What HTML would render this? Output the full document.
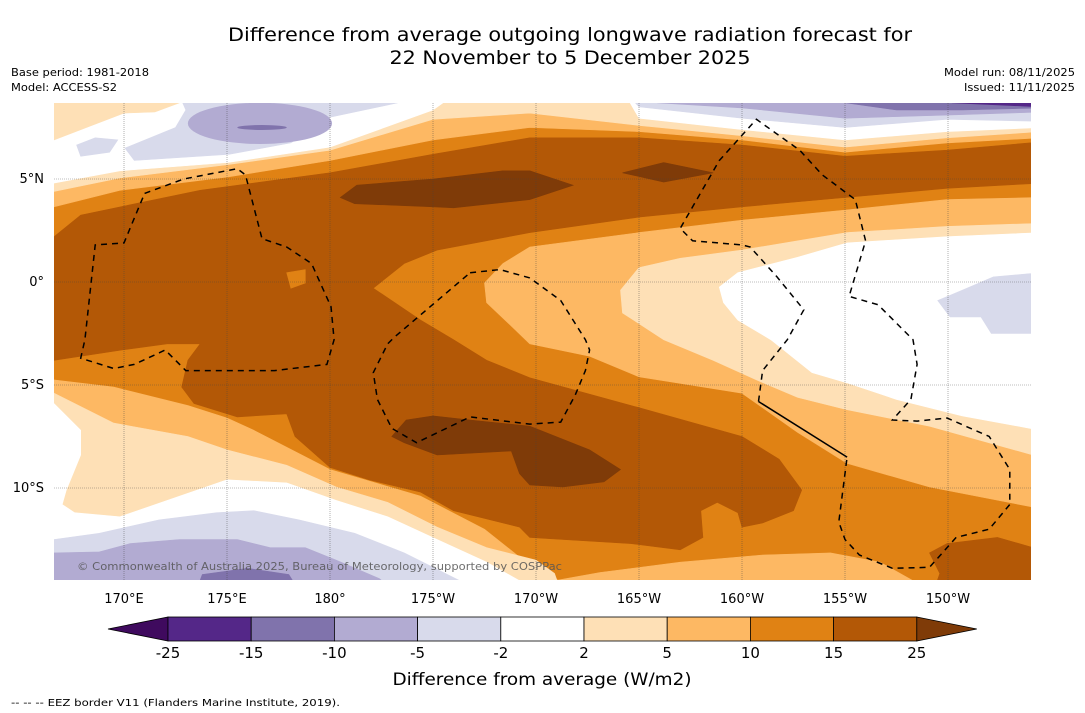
<!DOCTYPE html>
<html><head><meta charset="utf-8">
<style>
html,body{margin:0;padding:0;background:#fff;}
svg{display:block;font-family:"DejaVu Sans","Liberation Sans",sans-serif;}
</style></head>
<body>
<svg id="chart" width="1085" height="713" viewBox="0 0 1085 713" xmlns="http://www.w3.org/2000/svg">
<rect width="1085" height="713" fill="#fff"/>
<text x="570" y="41" font-size="19" text-anchor="middle" textLength="684" lengthAdjust="spacingAndGlyphs" fill="#000">Difference from average outgoing longwave radiation forecast for</text>
<text x="570" y="64" font-size="19" text-anchor="middle" textLength="361" lengthAdjust="spacingAndGlyphs" fill="#000">22 November to 5 December 2025</text>
<text x="11" y="76" font-size="11" textLength="138" lengthAdjust="spacingAndGlyphs">Base period: 1981-2018</text>
<text x="11" y="91" font-size="11" textLength="106" lengthAdjust="spacingAndGlyphs">Model: ACCESS-S2</text>
<text x="1075" y="76" font-size="11" text-anchor="end" textLength="131" lengthAdjust="spacingAndGlyphs">Model run: 08/11/2025</text>
<text x="1075" y="91" font-size="11" text-anchor="end" textLength="111" lengthAdjust="spacingAndGlyphs">Issued: 11/11/2025</text>
<defs><clipPath id="mapclip"><rect x="54" y="103" width="977" height="477"/></clipPath></defs>
<g id="map" clip-path="url(#mapclip)"></g>
<g id="axes"></g>
<g id="cbar"></g>
<text x="542" y="685" font-size="17" text-anchor="middle" textLength="299" lengthAdjust="spacingAndGlyphs">Difference from average (W/m2)</text>
<text x="11" y="706" font-size="10" textLength="329" lengthAdjust="spacingAndGlyphs">--  --  -- EEZ border V11 (Flanders Marine Institute, 2019).</text>
</svg>
<script>
const lonTicks = [170,175,180,185,190,195,200,205,210];
const lonLabels = ["170°E","175°E","180°","175°W","170°W","165°W","160°W","155°W","150°W"];
const latTicks = [5,0,-5,-10];
const latLabels = ["5°N","0°","5°S","10°S"];
const levels = [-25,-15,-10,-5,-2,2,5,10,15,25];
const levelColors = ["#3f0a5e","#542788","#8073ac","#b2abd2","#d8daeb","#ffffff","#fee0b6","#fdb863","#e08214","#b35806","#7f3b08"];

const topLightOrange=[[166,3.65],[166.6,3.65],[169.8,4.45],[175.05,5.1],[180,5.9],[185,6.9],[189.7,7.5],[195,7.3],[200,6.9],[205,6.3],[209.95,6.75],[214.5,7.0],[214.5,10],[166,10]];
const topPeach=[[166,4.4],[166.6,4.4],[169.8,5.05],[175.05,5.7],[180,6.4],[185,7.9],[189.7,8.2],[195,7.6],[200,7.1],[205,6.55],[209.95,7.0],[214.5,7.3],[214.5,10],[166,10]];
const topWhite=[[166,4.8],[166.6,4.8],[169.8,5.4],[175.05,5.8],[180,6.55],[185,8.35],[186.6,9.5],[194.1,9.5],[195,7.95],[200,7.4],[205,6.9],[209.95,7.3],[214.5,7.5],[214.5,10],[166,10]];
const topPeachCorner=[[166,9.5],[173,9.5],[172.7,8.7],[171.5,8.25],[170,8.2],[166.6,6.9],[166,6.9]];
const lavLeft=[[172.5,9.5],[183.4,9.5],[183.3,8.7],[180,8.0],[178.1,6.75],[175.1,6.2],[170.5,5.9],[170.05,6.5],[172.5,7.5],[173,8.35]];
const lavLeftSmall=[[167.7,6.65],[168.6,7.0],[169.7,6.9],[169.3,6.3],[167.9,6.1]];
const lavRight=[[194.1,9.5],[214.5,9.5],[214.5,7.8],[209.95,7.9],[205,7.5],[200,7.95],[195,8.5]];
const midRight=[[195.9,9.5],[214.5,9.5],[214.5,8.25],[209.95,8.1],[205,7.95],[200,8.45],[195.9,8.7]];
const darkRight=[[205,9.5],[214.5,9.5],[214.5,8.45],[210.7,8.35],[207.5,8.35],[205,8.7]];
const darkestRight=[[210.2,9.5],[214.5,9.5],[214.5,8.5],[210.2,8.7]];
const rightLightOrange=[[214.5,4.1],[209.95,4.0],[205.1,3.5],[200,3.0],[195,2.4],[189.7,1.7],[188.4,0.9],[187.5,-0.05],[187.6,-1.0],[188.5,-1.85],[189.7,-3.0],[192.6,-3.6],[195,-4.6],[200,-5.4],[202.7,-7.3],[205.1,-8.8],[209.1,-9.95],[214.5,-11.0]];
const rightPeach=[[214.5,2.85],[209.95,2.7],[205.1,2.4],[200,1.55],[197,1.15],[195,0.7],[194.1,-0.4],[194.2,-1.5],[196.2,-2.8],[198.6,-3.8],[200.7,-4.75],[202.7,-5.6],[205.1,-6.2],[209.1,-7.0],[214.5,-8.5]];
const rightWhite=[[214.5,2.4],[209.95,2.2],[205.1,1.9],[202.7,1.2],[199.8,0.45],[198.9,-0.25],[199.1,-1.0],[199.8,-1.85],[201.4,-2.8],[203.4,-4.4],[205.1,-4.9],[207.5,-5.7],[210.7,-6.5],[214.5,-7.2]];
const rightLav=[[209.5,-0.9],[210.7,-0.4],[212.2,0.25],[214.5,0.45],[214.5,-2.5],[212.1,-2.5],[211.6,-1.7],[210.1,-1.7]];
const blLightOrange=[[166,-4.75],[166.6,-4.75],[169.5,-5.1],[173.1,-6.0],[175,-6.6],[176.3,-7.2],[180,-9.1],[184.4,-10.4],[187.5,-12.0],[189.7,-13.75],[190.9,-14.3],[191.5,-15],[166,-15]];
const blRightLightOrange=[[190.9,-15],[190.9,-14.5],[193.1,-14.1],[197,-13.6],[201,-13.25],[204.3,-13.15],[206.7,-13.6],[208.3,-14.5],[209,-15]];
const blPeach=[[166,-5.4],[166.6,-5.4],[169.5,-6.85],[173.1,-7.5],[175,-8.15],[177.9,-8.9],[180.3,-9.95],[182.8,-10.7],[185.2,-11.9],[187.6,-12.9],[190,-13.5],[190.9,-14.15],[191.2,-15],[166,-15]];
const blWhite=[[166,-5.9],[166.6,-5.9],[167.9,-7.2],[167.9,-8.4],[167.2,-10.1],[167.0,-10.8],[167.6,-11.2],[169.8,-11.4],[172.1,-10.6],[175,-9.6],[177.9,-9.75],[180.3,-10.6],[182.8,-11.4],[185.2,-12.5],[187.6,-13.6],[189.2,-14.5],[189.5,-15],[166,-15]];
const blLav=[[166,-12.5],[166.6,-12.5],[168.8,-12.2],[171.7,-11.55],[174.5,-11.2],[176.3,-11.1],[178.5,-11.55],[181.2,-12.2],[183.6,-13.15],[185.3,-14.0],[186.3,-14.5],[186.6,-15],[166,-15]];
const blMid=[[166,-13.15],[166.6,-13.15],[168.8,-13.1],[170.3,-12.7],[172.7,-12.5],[175.5,-12.5],[177.1,-12.9],[178.8,-12.9],[180.3,-13.5],[182.4,-14.4],[183.1,-15],[166,-15]];
const blDark=[[173.5,-15],[173.8,-14.2],[176,-13.9],[178,-14.2],[178.5,-15]];
const brownBand=[[166,2.2],[166.6,2.2],[167.9,3.25],[173.7,4.45],[180,5.3],[185,6.2],[189.7,7.0],[195,7.0],[200,6.65],[205,6.1],[209.95,6.4],[214.5,6.8],[214.5,4.8],[209.95,4.55],[205,4.1],[200,3.65],[195,3.15],[189.7,2.4],[185.2,1.55],[183.6,0.9],[182.1,-0.3],[184.4,-1.85],[186,-2.8],[187.6,-3.8],[189.7,-4.65],[195,-6.1],[200,-7.5],[201.8,-8.6],[202.9,-10.1],[202.5,-11.1],[201,-11.7],[200,-11.9],[199.8,-11.2],[198.8,-10.7],[198,-11.1],[198.1,-12.4],[197,-13.0],[194.6,-12.7],[191.3,-12.5],[189.7,-12.4],[189.2,-11.9],[186,-11.1],[184.4,-10.2],[181.9,-9.6],[180,-9.0],[178.3,-7.5],[177.9,-6.4],[175.5,-6.55],[173.4,-5.9],[172.8,-5.1],[173.1,-3.8],[173.7,-3.0],[172.1,-3.0],[169.9,-3.3],[166.6,-3.8],[166,-3.8]];
const orangeBlob=[[177.9,0.45],[178.8,0.6],[178.8,-0.05],[178.1,-0.3]];
const darkNorth=[[180.5,4.1],[181.3,4.7],[185,5.0],[188.4,5.4],[189.7,5.4],[191.8,4.7],[189.7,4.0],[186,3.6],[185,3.65],[181.2,3.8]];
const darkNorthEast=[[194.2,5.3],[196.2,5.8],[198.6,5.3],[196.2,4.85]];
const darkSouth=[[183,-7.5],[183.7,-6.7],[185,-6.5],[186.8,-6.7],[189.7,-7.0],[192.6,-8.15],[194.1,-9.1],[193.3,-9.7],[191.3,-9.95],[189.7,-9.85],[189.2,-9.3],[188.8,-8.2],[185.2,-8.4],[183.6,-7.8]];
const brownSE=[[209.1,-13.15],[209.95,-12.7],[212.4,-12.4],[214.5,-13.0],[214.5,-15],[209.3,-15],[209.6,-14.15]];
const purpleEllipse=[176.6,7.7,3.5,1.0];
const darkPurpleEllipse=[176.7,7.5,1.2,0.12];

const eezWest=[[171.0,4.3],[172.9,5.0],[175.5,5.5],[175.9,5.2],[176.7,2.1],[177.9,1.7],[179.1,0.9],[180.05,-1.2],[180.2,-2.8],[179.85,-4.0],[177.3,-4.3],[173.0,-4.3],[172.0,-3.3],[170.5,-4.0],[169.5,-4.2],[167.9,-3.7],[168.1,-2.8],[168.6,1.8],[170,1.9],[171.0,4.3]];
const eezCentral=[[186.8,0.45],[188.25,0.6],[189.7,0.2],[191.2,-0.9],[192.4,-2.8],[192.6,-3.3],[192.4,-4.3],[191.9,-5.5],[191.2,-6.8],[189.7,-6.9],[186.8,-6.55],[184.2,-7.8],[183.0,-7.1],[182.3,-5.7],[182.1,-4.4],[182.8,-3.0],[183.1,-2.7],[186.8,0.45]];
const eezEastA=[[200.8,-5.8],[201.0,-4.3],[202.2,-2.8],[203.0,-1.35],[201.7,0.25],[200.4,1.7],[200.0,1.8],[197.6,2.0],[197.0,2.6],[198.9,5.9],[200.7,7.9],[202.8,6.4],[203.9,5.2],[205.5,4.0],[206.0,2.0],[205.2,-0.7],[206.6,-1.1],[208.3,-2.8],[208.5,-4.0],[208.2,-5.7],[207.3,-6.7],[208.5,-6.75],[209.95,-6.6],[212.0,-7.5],[213.0,-9.1],[213.0,-10.8],[212.0,-12.0],[210.4,-12.4],[209.1,-13.85],[207.3,-13.9],[205.7,-13.25],[205.0,-12.5],[204.7,-11.65],[205.1,-8.5]];
const eezEastSolid=[[200.8,-5.8],[205.1,-8.5]];

const NS="http://www.w3.org/2000/svg";
function xScale(lon){return 124+(lon-170)*20.6;}
function yScale(lat){return 282-lat*20.6;}
function pts(a){return a.map(p=>xScale(p[0]).toFixed(1)+","+yScale(p[1]).toFixed(1)).join(" ");}
const map=document.getElementById('map');
const axes=document.getElementById('axes');
const cbar=document.getElementById('cbar');

function poly(arr,color,name){
  const el=document.createElementNS(NS,'polygon');
  el.setAttribute('points',pts(arr));
  el.setAttribute('fill',color);
  el.setAttribute('stroke',color);
  el.setAttribute('stroke-width','0.6');
  
  
  map.appendChild(el);
}
function ell(e,color,name){
  const el=document.createElementNS(NS,'ellipse');
  el.setAttribute('cx',xScale(e[0]));el.setAttribute('cy',yScale(e[1]));
  el.setAttribute('rx',e[2]*20.6);el.setAttribute('ry',e[3]*20.6);
  el.setAttribute('fill',color);
  
  
  map.appendChild(el);
}
const C=levelColors;
const base=document.createElementNS(NS,'rect');
base.setAttribute('x',54);base.setAttribute('y',103);base.setAttribute('width',977);base.setAttribute('height',477);base.setAttribute('fill',C[8]);


map.appendChild(base);
poly(topLightOrange,C[7],'contour-top-5-10');
poly(topPeach,C[6],'contour-top-2-5');
poly(topWhite,C[5],'contour-top-neutral');
poly(topPeachCorner,C[6],'contour-topleft-2-5');
poly(lavLeft,C[4],'contour-topleft-neg2-neg5');
poly(lavLeftSmall,C[4],'contour-topleft-small-neg');
ell(purpleEllipse,C[3],'contour-topleft-neg5-neg10');
ell(darkPurpleEllipse,C[2],'contour-topleft-neg10-neg15');
poly(lavRight,C[4],'contour-topright-neg2-neg5');
poly(midRight,C[3],'contour-topright-neg5-neg10');
poly(darkRight,C[2],'contour-topright-neg10-neg15');
poly(darkestRight,C[1],'contour-topright-neg15-neg25');
poly(rightLightOrange,C[7],'contour-east-5-10');
poly(rightPeach,C[6],'contour-east-2-5');
poly(rightWhite,C[5],'contour-east-neutral');
poly(rightLav,C[4],'contour-east-neg2-neg5');
poly(blLightOrange,C[7],'contour-southwest-5-10');
poly(blRightLightOrange,C[7],'contour-south-5-10');
poly(blPeach,C[6],'contour-southwest-2-5');
poly(blWhite,C[5],'contour-southwest-neutral');
poly(blLav,C[4],'contour-southwest-neg2-neg5');
poly(blMid,C[3],'contour-southwest-neg5-neg10');
poly(blDark,C[2],'contour-southwest-neg10-neg15');
poly(brownBand,C[9],'contour-band-15-25');
poly(orangeBlob,C[8],'contour-small-10-15');
poly(darkNorth,C[10],'contour-north-over-25');
poly(darkNorthEast,C[10],'contour-northeast-over-25');
poly(darkSouth,C[10],'contour-south-over-25');
poly(brownSE,C[9],'contour-southeast-15-25');

lonTicks.forEach((lon,i)=>{
  const l=document.createElementNS(NS,'line');
  l.setAttribute('x1',xScale(lon));l.setAttribute('x2',xScale(lon));l.setAttribute('y1',103);l.setAttribute('y2',580);
  l.setAttribute('stroke','#444');l.setAttribute('stroke-width','0.6');l.setAttribute('stroke-dasharray','1,1');l.setAttribute('opacity','0.7');
  
  
  map.appendChild(l);
  const t=document.createElementNS(NS,'text');
  t.setAttribute('x',xScale(lon));t.setAttribute('y',603);t.setAttribute('font-size','13');t.setAttribute('text-anchor','middle');
  t.textContent=lonLabels[i];
  
  
  axes.appendChild(t);
});
latTicks.forEach((lat,i)=>{
  const l=document.createElementNS(NS,'line');
  l.setAttribute('x1',54);l.setAttribute('x2',1031);l.setAttribute('y1',yScale(lat));l.setAttribute('y2',yScale(lat));
  l.setAttribute('stroke','#444');l.setAttribute('stroke-width','0.6');l.setAttribute('stroke-dasharray','1,1');l.setAttribute('opacity','0.7');
  
  
  map.appendChild(l);
  const t=document.createElementNS(NS,'text');
  t.setAttribute('x',44);t.setAttribute('y',yScale(lat)+4);t.setAttribute('font-size','13');t.setAttribute('text-anchor','end');
  t.textContent=latLabels[i];
  
  
  axes.appendChild(t);
});
function line(arr,name,dash){
  const el=document.createElementNS(NS,'polyline');
  el.setAttribute('points',pts(arr));
  el.setAttribute('fill','none');el.setAttribute('stroke','#000');el.setAttribute('stroke-width','1.5');
  if(dash) el.setAttribute('stroke-dasharray','6,5');
  
  
  map.appendChild(el);
}
line(eezWest,'eez-border-west',true);
line(eezCentral,'eez-border-central',true);
line(eezEastA,'eez-border-east',true);
line(eezEastSolid,'eez-border-east-solid',false);
const cr=document.createElementNS(NS,'text');
cr.setAttribute('x',77);cr.setAttribute('y',570);cr.setAttribute('font-size','11');cr.setAttribute('fill','#555');cr.setAttribute('opacity','0.85');
cr.setAttribute('textLength','485');cr.setAttribute('lengthAdjust','spacingAndGlyphs');
cr.textContent='© Commonwealth of Australia 2025, Bureau of Meteorology, supported by COSPPac';


map.appendChild(cr);

const cbX0=168, cbW=83.2, cbY=617, cbH=24;
function cbx(i){return cbX0+i*cbW;}
const lt=document.createElementNS(NS,'polygon');
lt.setAttribute('points',`108,${cbY+cbH/2} ${cbX0},${cbY} ${cbX0},${cbY+cbH}`);
lt.setAttribute('fill',C[0]);lt.setAttribute('stroke','#000');lt.setAttribute('stroke-width','0.8');


cbar.appendChild(lt);
for(let i=0;i<levels.length-1;i++){
  const r=document.createElementNS(NS,'rect');
  r.setAttribute('x',cbx(i));r.setAttribute('y',cbY);r.setAttribute('width',cbW);r.setAttribute('height',cbH);
  r.setAttribute('fill',C[i+1]);r.setAttribute('stroke','#000');r.setAttribute('stroke-width','0.8');
  
  
  cbar.appendChild(r);
}
const endX=cbx(levels.length-1);
const rt=document.createElementNS(NS,'polygon');
rt.setAttribute('points',`${endX},${cbY} ${endX+60},${cbY+cbH/2} ${endX},${cbY+cbH}`);
rt.setAttribute('fill',C[10]);rt.setAttribute('stroke','#000');rt.setAttribute('stroke-width','0.8');


cbar.appendChild(rt);
levels.forEach((v,i)=>{
  const t=document.createElementNS(NS,'text');
  t.setAttribute('x',cbx(i));t.setAttribute('y',658);t.setAttribute('font-size','15');t.setAttribute('text-anchor','middle');
  t.textContent=String(v);
  
  
  cbar.appendChild(t);
});
</script>
</body></html>
